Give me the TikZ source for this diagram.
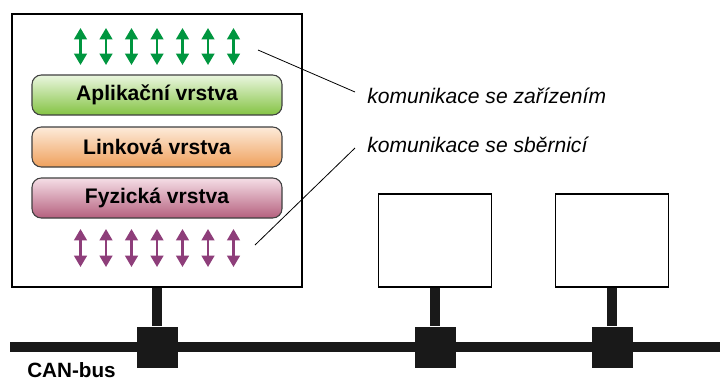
\documentclass[tikz,border=0pt]{standalone}
\usepackage{fontspec}
\setmainfont{Liberation Sans}
\usepackage{tikz}
\usetikzlibrary{arrows.meta}

\definecolor{sigGreen}{HTML}{00963F}
\definecolor{sigPurple}{HTML}{8E3E7A}
\definecolor{appTop}{HTML}{EAF6DF}
\definecolor{appBot}{HTML}{84C343}
\definecolor{linkTop}{HTML}{FDEBDA}
\definecolor{linkBot}{HTML}{EFA05C}
\definecolor{physTop}{HTML}{F5DEE6}
\definecolor{physBot}{HTML}{B5607E}

\tikzset{
	box/.style={draw, line width=1.4pt, fill=white, inner sep=0pt},
	layer/.style={draw=black!75, line width=0.8pt, rounded corners=7pt, inner sep=0pt,
		minimum width=187.5pt, minimum height=30pt, font=\bfseries\fontsize{15.8}{18}\selectfont},
	tap/.style={fill=black!90, inner sep=0pt, minimum size=30.75pt},
	wire/.style={line width=7.5pt, black!90},
	sig/.style={line width=1.6pt, {Triangle[width=9.5pt,length=8.5pt]}-{Triangle[width=9.5pt,length=8.5pt]}},
	note/.style={font=\itshape\fontsize{15.8}{18}\selectfont, inner sep=0pt, anchor=base west}
}

\begin{document}
\begin{tikzpicture}[x=0.75pt,y=-0.75pt]
			\useasboundingbox (0,0) rectangle (720,380);
			\node[box, minimum width=217.5pt, minimum height=204.75pt] (dev) at (157,150.5) {};
			\node[box, minimum width=84.75pt, minimum height=69.75pt] (nodeB) at (435,240.5) {};
			\node[box, minimum width=84.75pt, minimum height=69.75pt] (nodeC) at (612,240.5) {};
			\node[layer, top color=appTop, bottom color=appBot] (app) at (157,95) {Aplikační vrstva};
			\node[layer, top color=linkTop, bottom color=linkBot] (link) at (157,147) {Linková vrstva};
			\node[layer, top color=physTop, bottom color=physBot] (phys) at (157,198) {Fyzická vrstva};
			\foreach \i in {-3,...,3} {
				\draw[sig, sigGreen] (157+25.5*\i,28) -- (157+25.5*\i,65);
				\draw[sig, sigPurple] (157+25.5*\i,229) -- (157+25.5*\i,267);
			}
			\node[note] (devNote) at (367,103) {komunikace se zařízením};
			\node[note] (busNote) at (367,152) {komunikace se sběrnicí};
			\coordinate (devFrom) at (258,50);
			\coordinate (devTo) at (355,92);
			\coordinate (busFrom) at (255,245);
			\coordinate (busTo) at (355,148);
			\draw[line width=0.6pt] (devFrom) -- (devTo);
			\draw[line width=0.6pt] (busFrom) -- (busTo);
			\coordinate (busL) at (10,347);
			\coordinate (busR) at (720,347);
			\draw[wire] (busL) -- (busR);
			\node[tap] (tapA) at (157,347) {};
			\node[tap] (tapB) at (435,347) {};
			\node[tap] (tapC) at (612,347) {};
			\draw[wire] (dev.south) -- (tapA.north);
			\draw[wire] (nodeB.south) -- (tapB.north);
			\draw[wire] (nodeC.south) -- (tapC.north);
			\node[font=\bfseries\fontsize{15.5}{18}\selectfont, inner sep=0pt, anchor=base west] (bus) at (27,377.5) {CAN-bus};
		\end{tikzpicture}
\end{document}
